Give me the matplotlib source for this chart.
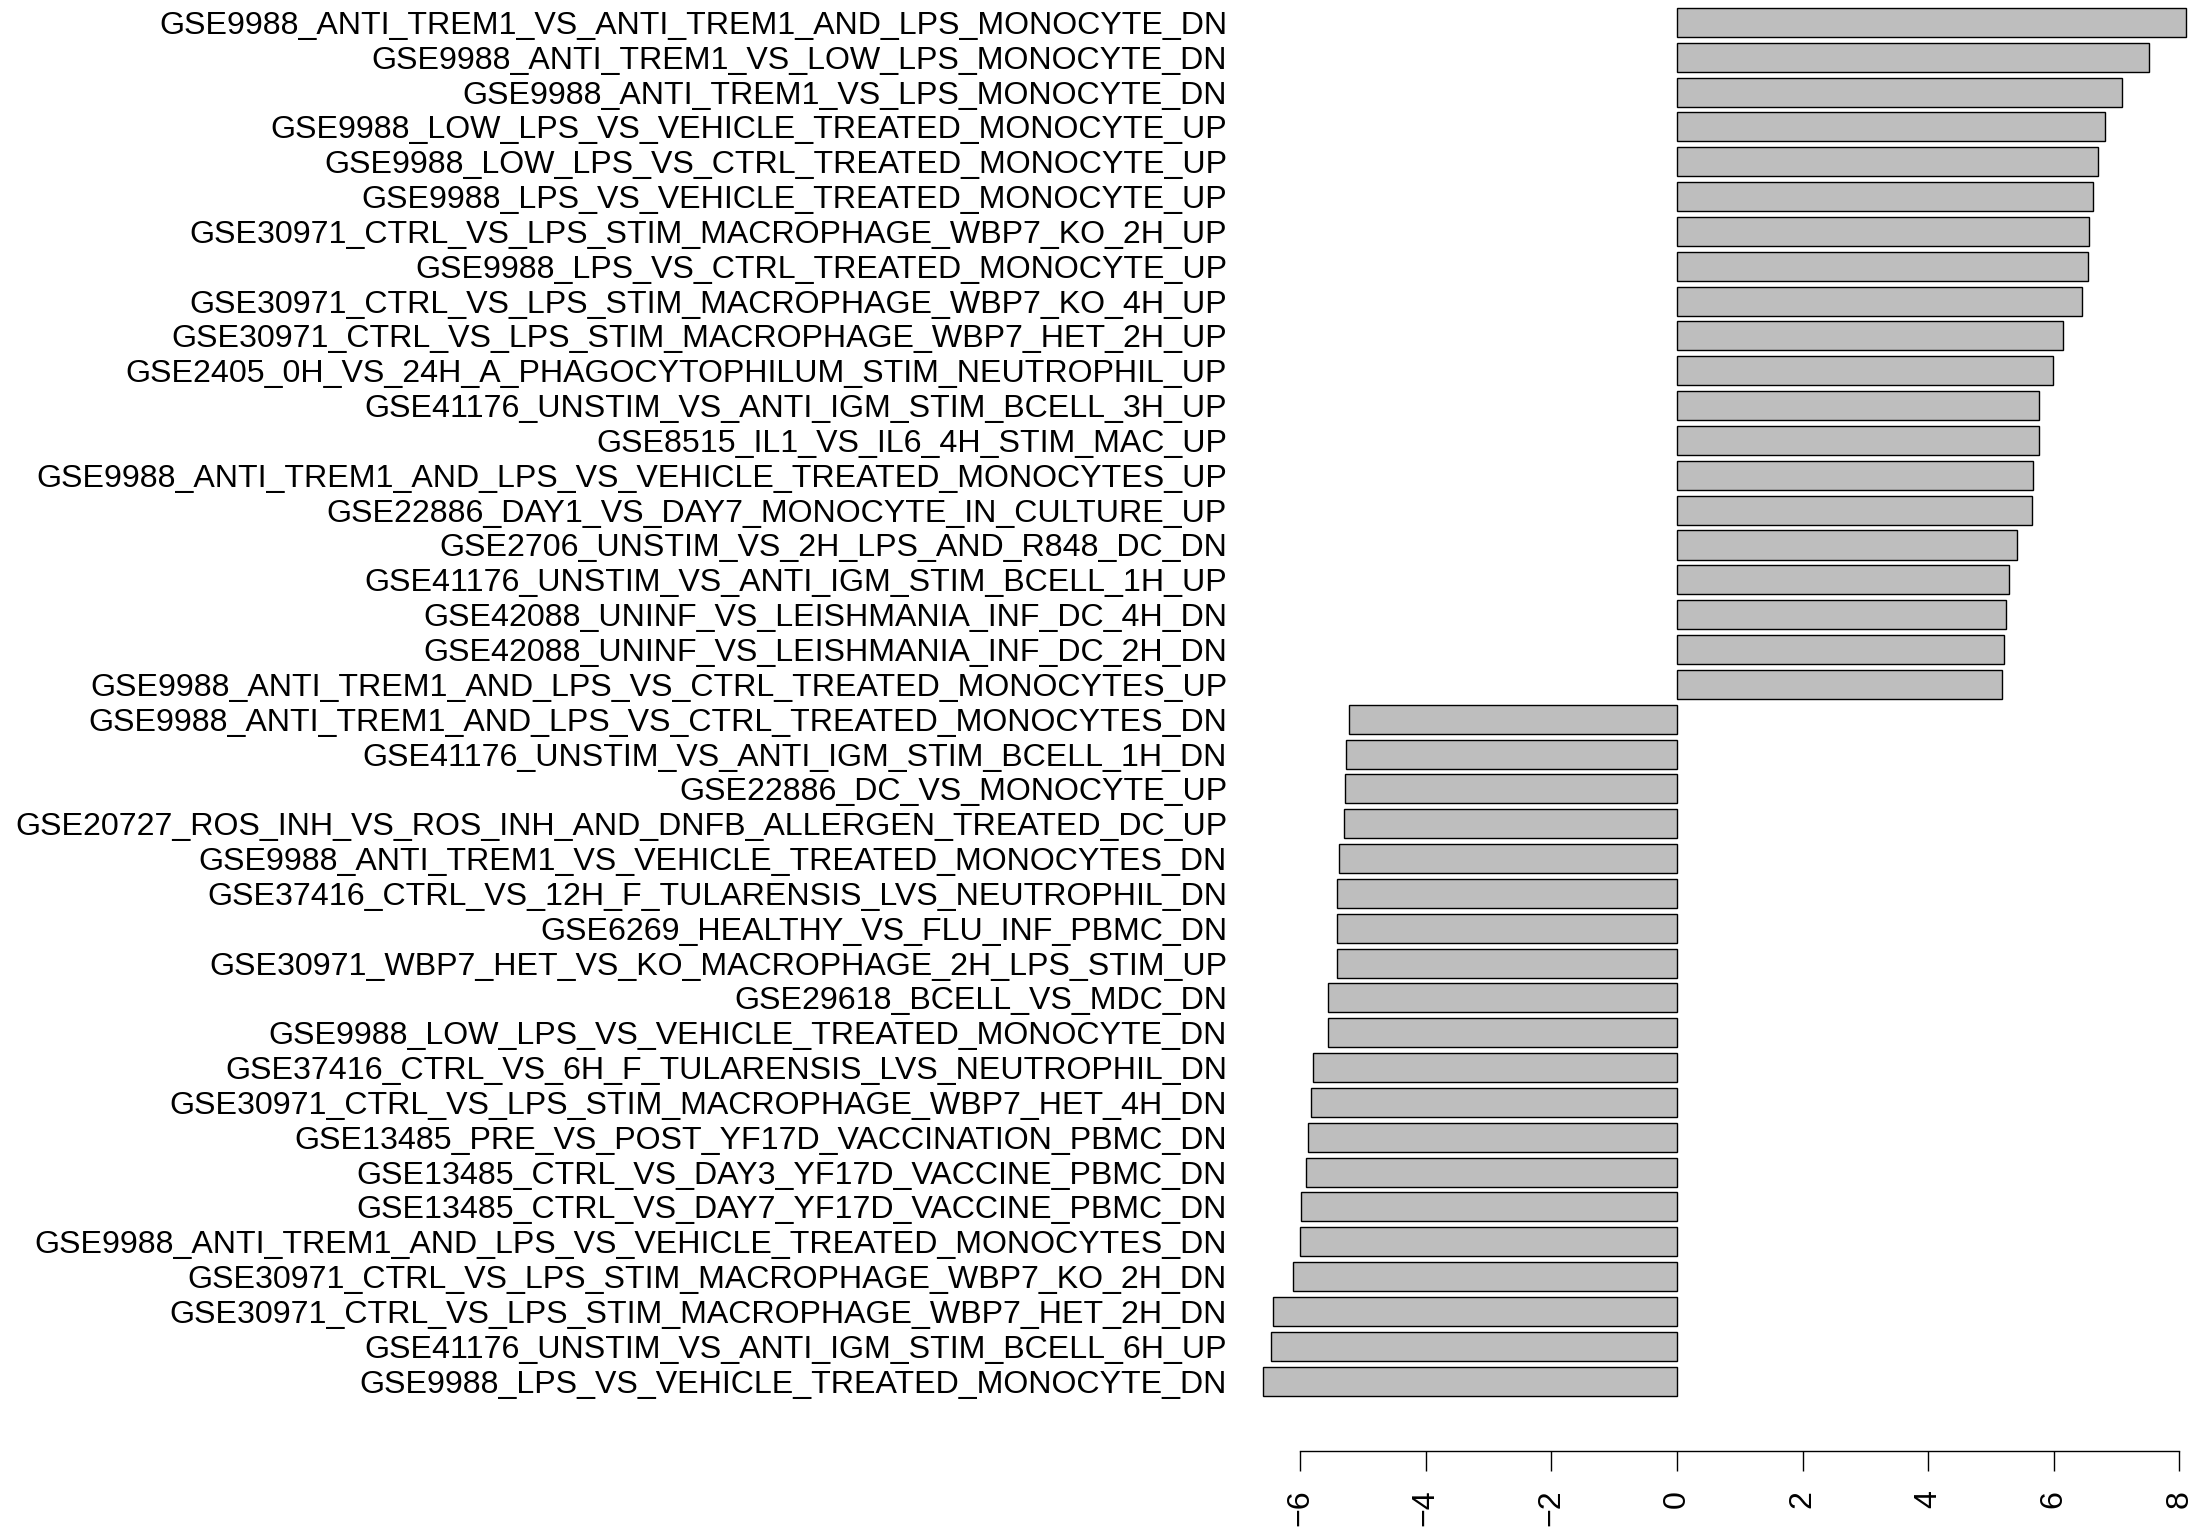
import matplotlib
matplotlib.use("Agg")
import matplotlib.pyplot as plt

plt.rcParams['font.family'] = ['Liberation Sans', 'DejaVu Sans']

# gene sets, top to bottom
labels = [
    "GSE9988_ANTI_TREM1_VS_ANTI_TREM1_AND_LPS_MONOCYTE_DN",
    "GSE9988_ANTI_TREM1_VS_LOW_LPS_MONOCYTE_DN",
    "GSE9988_ANTI_TREM1_VS_LPS_MONOCYTE_DN",
    "GSE9988_LOW_LPS_VS_VEHICLE_TREATED_MONOCYTE_UP",
    "GSE9988_LOW_LPS_VS_CTRL_TREATED_MONOCYTE_UP",
    "GSE9988_LPS_VS_VEHICLE_TREATED_MONOCYTE_UP",
    "GSE30971_CTRL_VS_LPS_STIM_MACROPHAGE_WBP7_KO_2H_UP",
    "GSE9988_LPS_VS_CTRL_TREATED_MONOCYTE_UP",
    "GSE30971_CTRL_VS_LPS_STIM_MACROPHAGE_WBP7_KO_4H_UP",
    "GSE30971_CTRL_VS_LPS_STIM_MACROPHAGE_WBP7_HET_2H_UP",
    "GSE2405_0H_VS_24H_A_PHAGOCYTOPHILUM_STIM_NEUTROPHIL_UP",
    "GSE41176_UNSTIM_VS_ANTI_IGM_STIM_BCELL_3H_UP",
    "GSE8515_IL1_VS_IL6_4H_STIM_MAC_UP",
    "GSE9988_ANTI_TREM1_AND_LPS_VS_VEHICLE_TREATED_MONOCYTES_UP",
    "GSE22886_DAY1_VS_DAY7_MONOCYTE_IN_CULTURE_UP",
    "GSE2706_UNSTIM_VS_2H_LPS_AND_R848_DC_DN",
    "GSE41176_UNSTIM_VS_ANTI_IGM_STIM_BCELL_1H_UP",
    "GSE42088_UNINF_VS_LEISHMANIA_INF_DC_4H_DN",
    "GSE42088_UNINF_VS_LEISHMANIA_INF_DC_2H_DN",
    "GSE9988_ANTI_TREM1_AND_LPS_VS_CTRL_TREATED_MONOCYTES_UP",
    "GSE9988_ANTI_TREM1_AND_LPS_VS_CTRL_TREATED_MONOCYTES_DN",
    "GSE41176_UNSTIM_VS_ANTI_IGM_STIM_BCELL_1H_DN",
    "GSE22886_DC_VS_MONOCYTE_UP",
    "GSE20727_ROS_INH_VS_ROS_INH_AND_DNFB_ALLERGEN_TREATED_DC_UP",
    "GSE9988_ANTI_TREM1_VS_VEHICLE_TREATED_MONOCYTES_DN",
    "GSE37416_CTRL_VS_12H_F_TULARENSIS_LVS_NEUTROPHIL_DN",
    "GSE6269_HEALTHY_VS_FLU_INF_PBMC_DN",
    "GSE30971_WBP7_HET_VS_KO_MACROPHAGE_2H_LPS_STIM_UP",
    "GSE29618_BCELL_VS_MDC_DN",
    "GSE9988_LOW_LPS_VS_VEHICLE_TREATED_MONOCYTE_DN",
    "GSE37416_CTRL_VS_6H_F_TULARENSIS_LVS_NEUTROPHIL_DN",
    "GSE30971_CTRL_VS_LPS_STIM_MACROPHAGE_WBP7_HET_4H_DN",
    "GSE13485_PRE_VS_POST_YF17D_VACCINATION_PBMC_DN",
    "GSE13485_CTRL_VS_DAY3_YF17D_VACCINE_PBMC_DN",
    "GSE13485_CTRL_VS_DAY7_YF17D_VACCINE_PBMC_DN",
    "GSE9988_ANTI_TREM1_AND_LPS_VS_VEHICLE_TREATED_MONOCYTES_DN",
    "GSE30971_CTRL_VS_LPS_STIM_MACROPHAGE_WBP7_KO_2H_DN",
    "GSE30971_CTRL_VS_LPS_STIM_MACROPHAGE_WBP7_HET_2H_DN",
    "GSE41176_UNSTIM_VS_ANTI_IGM_STIM_BCELL_6H_UP",
    "GSE9988_LPS_VS_VEHICLE_TREATED_MONOCYTE_DN",
]

scores = [
    8.10, 7.52, 7.08, 6.81, 6.71, 6.62, 6.56, 6.54, 6.45, 6.15,
    5.98, 5.76, 5.76, 5.67, 5.66, 5.41, 5.28, 5.24, 5.21, 5.17,
    -5.22, -5.27, -5.28, -5.31, -5.38, -5.41, -5.41, -5.42, -5.56, -5.56,
    -5.80, -5.83, -5.87, -5.91, -5.98, -6.01, -6.11, -6.43, -6.46, -6.59,
]

xticks = [-6, -4, -2, 0, 2, 4, 6, 8]

W, H = 2196, 1527
fig = plt.figure(figsize=(W / 100, H / 100), dpi=100)

# pixel layout of the original (zero at x=1677, 62.8 px per unit)
zero_px, unit_px = 1677, 62.8
ax_left, ax_bottom = 1250, 1451
ax = fig.add_axes([ax_left / W, (H - ax_bottom) / H, 1 - ax_left / W, ax_bottom / H])

pos = list(range(len(scores)))
ax.barh(pos, scores, height=0.833, color='#BEBEBE', edgecolor='black', linewidth=1.0)

ax.set_xlim((ax_left - zero_px) / unit_px, (W - zero_px) / unit_px)
pitch = 34.84
top_c = 22.4
ax.set_ylim((ax_bottom - top_c) / pitch, -top_c / pitch)

ax.set_yticks(pos)
ax.set_yticklabels(labels, fontsize=23.1)
ax.tick_params(axis='y', length=0, pad=16.5)

ax.set_xticks(xticks)
ax.set_xticklabels([str(t).replace('-', '\u2212') for t in xticks], rotation=90, fontsize=23.1)
ax.tick_params(axis='x', length=14.4, width=1.0, pad=13.5)

for s in ['top', 'right', 'left']:
    ax.spines[s].set_visible(False)
ax.spines['bottom'].set_bounds(-6, 8)
ax.spines['bottom'].set_linewidth(1.0)

fig.savefig('out.png', dpi=100)
